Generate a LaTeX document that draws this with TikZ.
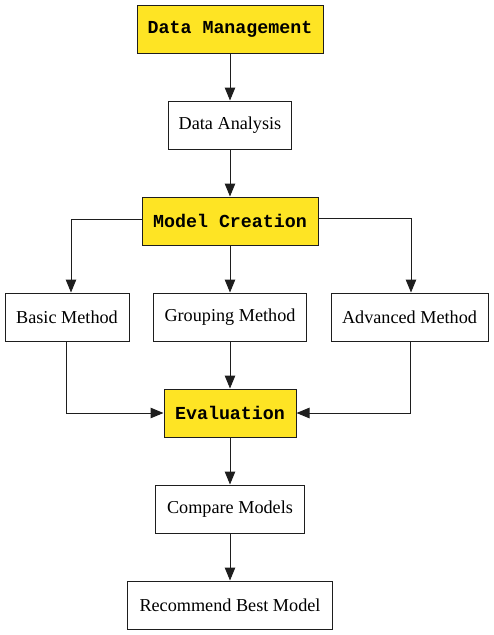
\documentclass[tikz,border=0pt]{standalone}
\usepackage{fontspec}
\setmainfont{Liberation Serif}
\setmonofont{Liberation Mono}
\usetikzlibrary{arrows.meta}
\definecolor{hl}{RGB}{254,228,36}
\definecolor{ln}{RGB}{30,30,30}
\tikzset{
  x=1pt, y=1pt,
  base/.style={draw=ln, line width=1pt, minimum height=48pt, inner sep=0pt, font=\fontsize{18.2}{20}\selectfont},
  plainbox/.style={base, fill=white},
  keybox/.style={base, fill=hl, font=\fontsize{18.3}{20}\selectfont\ttfamily\bfseries},
  conn/.style={draw=ln, line width=1pt, -{Triangle[length=13pt,width=10.5pt]}},
}
\begin{document}
\begin{tikzpicture}
\useasboundingbox (0,0) rectangle (494,-635);
\node[keybox, minimum width=186pt] (dm) at (230,-29) {Data Management};
\node[plainbox, minimum width=123pt] (da) at (230,-125) {Data Analysis};
\node[keybox, minimum width=176pt] (mc) at (230,-221) {Model Creation};
\node[plainbox, minimum width=124pt] (bm) at (67,-317) {Basic Method};
\node[plainbox, minimum width=153pt] (gm) at (230,-317) {Grouping Method};
\node[plainbox, minimum width=157pt] (am) at (409.5,-317) {Advanced Method};
\node[keybox, minimum width=132pt] (ev) at (230,-413) {Evaluation};
\node[plainbox, minimum width=149pt] (cm) at (230,-509) {Compare Models};
\node[plainbox, minimum width=205pt] (rb) at (230,-605) {Recommend Best Model};
\coordinate (c1) at (71,-219);
\coordinate (c2) at (411,-218);
\coordinate (c3) at (66,-413);
\coordinate (c4) at (410,-413);
\draw[conn] (dm) -- (da);
\draw[conn] (da) -- (mc);
\draw[conn] (mc.west |- c1) -- (c1) -- (c1 |- bm.north);
\draw[conn] (mc) -- (gm);
\draw[conn] (mc.east |- c2) -- (c2) -- (c2 |- am.north);
\draw[conn] (bm.south -| c3) -- (c3) -- (ev.west);
\draw[conn] (gm) -- (ev);
\draw[conn] (am.south -| c4) -- (c4) -- (ev.east);
\draw[conn] (ev) -- (cm);
\draw[conn] (cm) -- (rb);
\end{tikzpicture}
\end{document}
